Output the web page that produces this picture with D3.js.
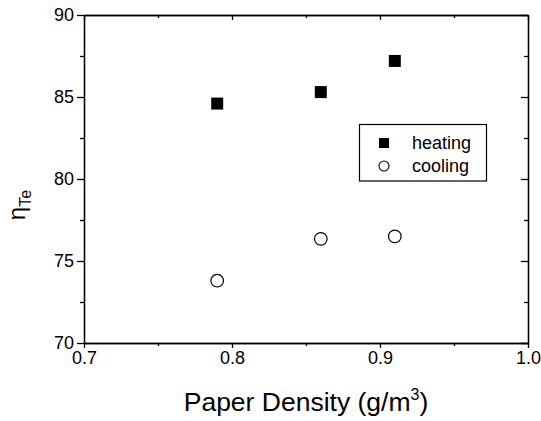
<!DOCTYPE html>
<html><head><meta charset="utf-8">
<script src="https://cdn.jsdelivr.net/npm/d3@7"></script>
<style>
body{margin:0;background:#fff;}
svg{display:block;}
svg text{font-family:"Liberation Sans",Arial,sans-serif !important;}
</style></head>
<body><svg id="c" width="541" height="421"></svg>
<script>
const heatingX = [0.79, 0.86, 0.91];
const heatingY = [84.6, 85.3, 87.2];
const coolingX = [0.79, 0.86, 0.91];
const coolingY = [73.8, 76.35, 76.5];
const xTicks = [0.7, 0.8, 0.9, 1.0];
const xMinor = [0.75, 0.85, 0.95];
const yTicks = [70, 75, 80, 85, 90];
const yMinor = [72.5, 77.5, 82.5, 87.5];
const legendLabels = ["heating", "cooling"];

const svg = d3.select("#c");
const L = 84, R = 528, T = 15, B = 343;
const x = d3.scaleLinear().domain([0.7, 1.0]).range([L, R]);
const y = d3.scaleLinear().domain([70, 90]).range([B, T]);

function styleAxis(g){
  g.attr("font-family", null);
  g.selectAll("path").attr("stroke","#000").attr("stroke-width",1.3);
  g.selectAll("line").attr("stroke","#000").attr("stroke-width",1.3);
  g.selectAll("text").attr("fill","#000").style("font-size","18px");
}
// bottom
svg.append("g").attr("transform",`translate(0,${B})`)
  .call(d3.axisBottom(x).tickValues(xTicks).tickFormat(d3.format(".1f")).tickSizeInner(5).tickSizeOuter(0).tickPadding(3))
  .call(styleAxis);
svg.append("g").attr("transform",`translate(0,${B})`)
  .call(d3.axisBottom(x).tickValues(xMinor).tickFormat("").tickSize(3).tickSizeOuter(0))
  .call(styleAxis);
// top
svg.append("g").attr("transform",`translate(0,${T})`)
  .call(d3.axisBottom(x).tickValues(xTicks).tickFormat("").tickSize(5).tickSizeOuter(0))
  .call(styleAxis);
svg.append("g").attr("transform",`translate(0,${T})`)
  .call(d3.axisBottom(x).tickValues(xMinor).tickFormat("").tickSize(3).tickSizeOuter(0))
  .call(styleAxis);
// left
svg.append("g").attr("transform",`translate(${L},0)`)
  .call(d3.axisLeft(y).tickValues(yTicks).tickFormat(d3.format("d")).tickSizeInner(7).tickSizeOuter(0).tickPadding(3))
  .call(styleAxis);
svg.append("g").attr("transform",`translate(${L},0)`)
  .call(d3.axisLeft(y).tickValues(yMinor).tickFormat("").tickSize(4).tickSizeOuter(0))
  .call(styleAxis);
// right
svg.append("g").attr("transform",`translate(${R},0)`)
  .call(d3.axisLeft(y).tickValues(yTicks).tickFormat("").tickSize(7).tickSizeOuter(0))
  .call(styleAxis);
svg.append("g").attr("transform",`translate(${R},0)`)
  .call(d3.axisLeft(y).tickValues(yMinor).tickFormat("").tickSize(4).tickSizeOuter(0))
  .call(styleAxis);

// data
const heat = heatingX.map((d,i)=>({x:d,y:heatingY[i]}));
const cool = coolingX.map((d,i)=>({x:d,y:coolingY[i]}));
const s = 12;
svg.append("g").selectAll("rect").data(heat).join("rect")
  .attr("x",d=>x(d.x)-s/2).attr("y",d=>y(d.y)-s/2).attr("width",s).attr("height",s).attr("fill","#000");
svg.append("g").selectAll("circle").data(cool).join("circle")
  .attr("cx",d=>x(d.x)).attr("cy",d=>y(d.y)).attr("r",6.3)
  .attr("fill","#fff").attr("stroke","#000").attr("stroke-width",1.2);

// legend
const lg = svg.append("g");
lg.append("rect").attr("x",359.5).attr("y",124.5).attr("width",127).attr("height",56.5)
  .attr("fill","#fff").attr("stroke","#000").attr("stroke-width",1.2);
lg.append("rect").attr("x",384-5).attr("y",143-5).attr("width",10).attr("height",10).attr("fill","#000");
lg.append("circle").attr("cx",384).attr("cy",166).attr("r",5).attr("fill","#fff").attr("stroke","#000").attr("stroke-width",1.1);
lg.selectAll("text.l").data(legendLabels).join("text").attr("class","l")
  .attr("x",412).attr("y",(d,i)=>149+i*23).text(d=>d).style("font-size","18px");

// axis titles
svg.append("text").attr("x",306).attr("y",411).attr("text-anchor","middle").style("font-size","26.5px")
  .html('Paper Density (g/m<tspan dy="-11" font-size="16px">3</tspan><tspan dy="11">)</tspan>');
svg.append("text").attr("transform","translate(25,205) rotate(-90)").attr("text-anchor","middle")
  .style("font-size","24px")
  .html('η<tspan dy="6" font-size="16px">Te</tspan>');
</script></body></html>
